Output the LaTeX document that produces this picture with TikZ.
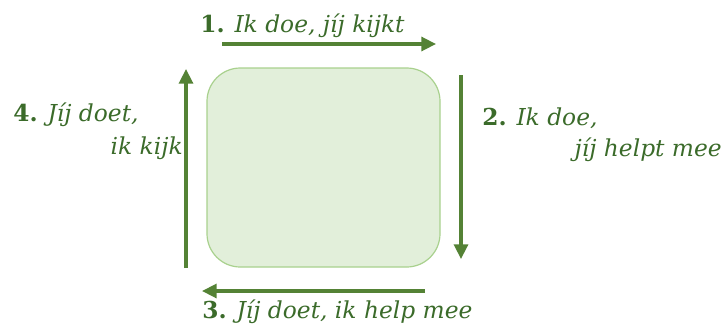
\documentclass[tikz,border=0pt]{standalone}
\usepackage{fontspec}
\setmainfont{DejaVu Serif}
\usetikzlibrary{arrows.meta}
\definecolor{arrowgreen}{HTML}{548235}
\definecolor{textgreen}{HTML}{3B6B2A}
\definecolor{boxfill}{HTML}{E2EFDA}
\definecolor{boxline}{HTML}{A9D18E}
\tikzset{
  flow/.style={draw=arrowgreen, line width=2.4pt, -{Triangle[length=11pt,width=10.5pt]}},
  lbl/.style={text=textgreen, inner sep=0pt, font=\fontsize{17.5}{19}\selectfont},
}
\newcommand{\nr}[1]{{\upshape\bfseries #1}}
\begin{document}
\begin{tikzpicture}[x=0.75pt,y=-0.75pt]
\useasboundingbox (0,0) rectangle (724,329);
\draw[fill=boxfill, draw=boxline, line width=0.9pt, rounded corners=25pt] (207,68) rectangle (440,267);
\node (box) at (323.5,167.5) {};
% arrows
\coordinate (a1s) at (222,44); \coordinate (a1e) at (436,44);
\coordinate (a2s) at (461,75); \coordinate (a2e) at (461,259);
\coordinate (a3s) at (425,291); \coordinate (a3e) at (202,291);
\coordinate (a4s) at (186,268); \coordinate (a4e) at (186,69);
\draw[flow] (a1s) -- (a1e);
\draw[flow] (a2s) -- (a2e);
\draw[flow] (a3s) -- (a3e);
\draw[flow] (a4s) -- (a4e);
% labels
\node[lbl, anchor=base west] (t1) at (200,32) {\nr{1.} \itshape Ik doe, jíj kijkt};
\node[lbl, anchor=base west] (t2a) at (482,125) {\nr{2.} \itshape Ik doe,};
\node[lbl, anchor=base east] (t2b) at (722,156) {\itshape jíj helpt mee};
\node[lbl, anchor=base west] (t3) at (202,318) {\nr{3.} \itshape Jíj doet, ik help mee};
\node[lbl, anchor=base west] (t4a) at (13,121) {\nr{4.} \itshape Jíj doet,};
\node[lbl, anchor=base east] (t4b) at (183,154) {\itshape ik kijk};
\end{tikzpicture}
\end{document}
